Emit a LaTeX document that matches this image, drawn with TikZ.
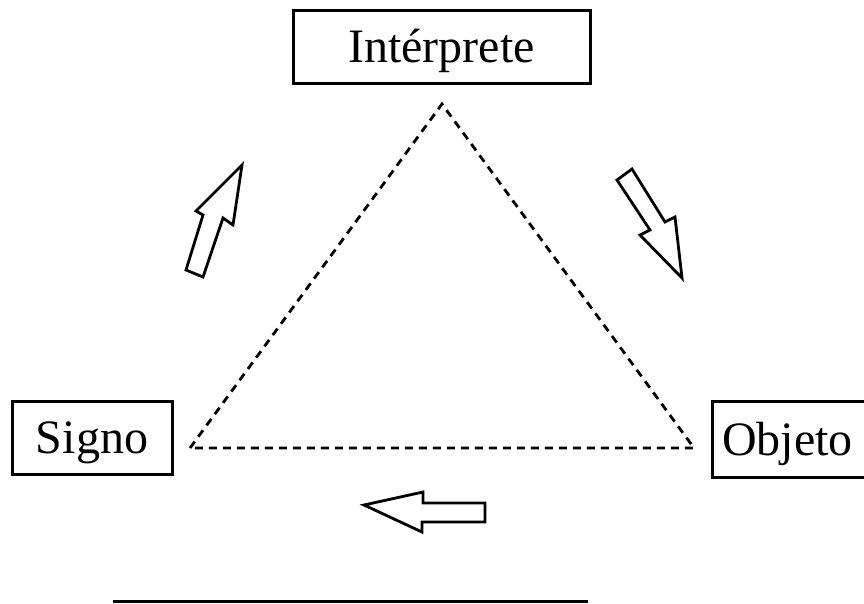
\documentclass[tikz,border=0pt]{standalone}
\usepackage{fontspec}
\setmainfont{Liberation Serif}
\begin{document}
\begin{tikzpicture}[x=1pt,y=-1pt,
  labelbox/.style={draw,line width=3pt,rectangle,inner sep=0pt,
    font=\fontsize{48}{58}\selectfont,text height=32pt,text depth=0pt},
  blockarrow/.style={draw,line width=2.8pt,fill=white,line join=miter},
  tridash/.style={line width=2.8pt,dash pattern=on 8pt off 6pt}]
\useasboundingbox (0,0) rectangle (864,603);
\begin{scope}
\clip (0,0) rectangle (864,603);
\node[labelbox,minimum width=297pt,minimum height=73pt] (int) at (441.5,46.5) {Intérprete};
\node[labelbox,minimum width=160pt,minimum height=73pt] (sig) at (92,437.5) {Signo};
\node[labelbox,minimum width=174pt,minimum height=76pt,text width=154pt,align=left] (obj) at (799,439) {Objeto};
\coordinate (apex) at (442,104);
\coordinate (bl) at (190,448);
\coordinate (br) at (694,448);
\draw[tridash] (bl) -- (apex) -- (br) -- (bl);
% up-right arrow
\draw[blockarrow] (186,270) -- (203,277) -- (223,218) -- (233,225) -- (242,165) -- (196,211) -- (203,215) -- cycle;
% down-right arrow
\draw[blockarrow] (617,180) -- (632,169) -- (665,222) -- (675,217) -- (682,278) -- (640,235) -- (650,230) -- cycle;
% left arrow
\draw[blockarrow] (364,505) -- (423,492) -- (423,503) -- (485,503) -- (485,522) -- (422,522) -- (422,532) -- cycle;
\coordinate (ls) at (113,601.5);
\coordinate (le) at (588,601.5);
\draw[line width=3pt] (ls) -- (le);
\end{scope}
\end{tikzpicture}
\end{document}
